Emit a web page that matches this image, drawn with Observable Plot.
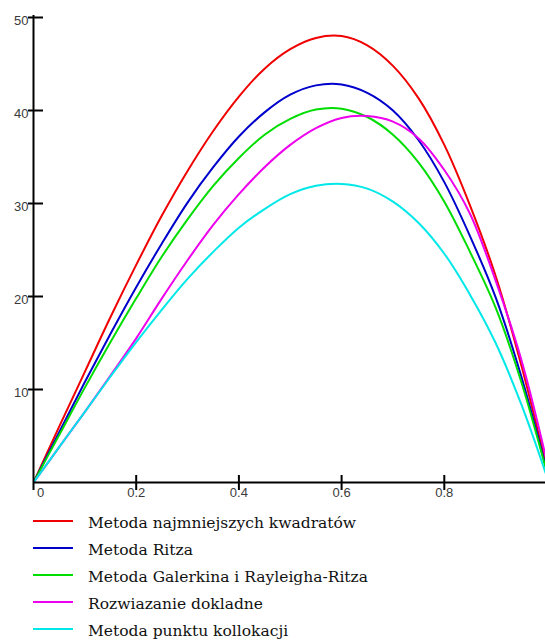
<!DOCTYPE html>
<html>
<head>
<meta charset="utf-8">
<script src="https://cdn.jsdelivr.net/npm/d3@7"></script>
<script src="https://cdn.jsdelivr.net/npm/@observablehq/plot@0.6"></script>
<style>
  html, body { margin: 0; padding: 0; background: #fff; }
  #wrap { position: relative; width: 545px; height: 642px; overflow: hidden; }
  #legend { position: absolute; left: 0; top: 0; width: 545px; height: 642px; }
</style>
</head>
<body>
<div id="wrap"><div id="chart"></div><svg id="legend" width="545" height="642"></svg></div>
<script>
const xs = [0, 0.05, 0.1, 0.15, 0.2, 0.25, 0.3, 0.35, 0.4, 0.45, 0.5, 0.55, 0.6, 0.65, 0.7, 0.75, 0.8, 0.85, 0.9, 0.95, 1.0];

const seriesNames = [
  "Metoda najmniejszych kwadratów",
  "Metoda Ritza",
  "Metoda Galerkina i Rayleigha-Ritza",
  "Rozwiazanie dokladne",
  "Metoda punktu kollokacji"
];
const seriesColors = ["#f00000", "#0000cc", "#00dd00", "#ee00ee", "#00e8e8"];

const leastSquares = [0, 6.0, 11.9, 17.8, 23.4, 28.7, 33.5, 37.8, 41.5, 44.5, 46.6, 47.8, 48.0, 47.0, 44.8, 41.3, 36.3, 29.8, 22.2, 12.6, 1.5];
const ritz         = [0, 5.4, 10.8, 16.0, 21.0, 25.7, 30.1, 33.9, 37.2, 39.8, 41.7, 42.7, 42.8, 41.9, 40.0, 36.8, 32.3, 26.5, 19.9, 11.4, 1.2];
const galerkin     = [0, 5.1, 10.2, 15.1, 19.8, 24.3, 28.3, 31.9, 34.9, 37.4, 39.1, 40.1, 40.2, 39.3, 37.4, 34.4, 30.2, 24.8, 18.8, 10.8, 1.0];
const exact        = [0, 3.8, 7.6, 11.5, 15.5, 19.8, 23.9, 27.7, 31.0, 33.9, 36.3, 38.1, 39.2, 39.4, 38.8, 37.0, 33.6, 28.9, 21.7, 13.2, 2.2];
const collocation  = [0, 3.8, 7.6, 11.4, 15.1, 18.6, 21.9, 24.8, 27.4, 29.4, 31.0, 31.9, 32.1, 31.6, 30.2, 27.9, 24.6, 20.2, 15.0, 8.4, 0.6];

const yTicks = [10, 20, 30, 40, 50];
const xTicks = [0.2, 0.4, 0.6, 0.8];
const xZeroTick = [0];

const allSeries = [leastSquares, ritz, galerkin, exact, collocation];
const data = [];
allSeries.forEach((vals, i) => {
  xs.forEach((x, j) => data.push({series: seriesNames[i], x, y: vals[j]}));
});

const W = 545, H = 505, mL = 33, mT = 17, mB = 23;
const frameW = W - mL, frameH = H - mT - mB;

const chart = Plot.plot({
  width: W,
  height: H,
  marginLeft: mL,
  marginRight: 0,
  marginTop: mT,
  marginBottom: mB,
  style: {background: "#fff", fontFamily: "'Liberation Sans', Arial, sans-serif", fontSize: "13px"},
  x: {domain: [0, (W - mL) / 513.5], axis: null},
  y: {domain: [0, 50], axis: null},
  color: {domain: seriesNames, range: seriesColors},
  marks: [
    Plot.line(data, {x: "x", y: "y", z: "series", stroke: "series", strokeWidth: 2, curve: "catmull-rom", clip: true}),
    Plot.ruleX([0], {stroke: "#000", strokeWidth: 2, insetTop: -2, insetBottom: -8}),
    Plot.ruleY([0], {stroke: "#000", strokeWidth: 2}),
    Plot.tickY(yTicks, {y: d => d, stroke: "#000", strokeWidth: 2, insetLeft: -5, insetRight: frameW - 10}),
    Plot.tickX(xTicks, {x: d => d, stroke: "#000", strokeWidth: 2, insetTop: frameH - 7, insetBottom: -8}),
    Plot.text(yTicks, {y: d => d, frameAnchor: "left", dx: -5, dy: 3, textAnchor: "end", text: d => String(d), fill: "#3a3a3a"}),
    Plot.text(xTicks, {x: d => d, frameAnchor: "bottom", dy: 14, text: d => String(d), fill: "#3a3a3a"}),
    Plot.text(xZeroTick, {x: d => d, frameAnchor: "bottom", dy: 14, dx: 7, text: d => String(d), fill: "#3a3a3a"})
  ]
});
document.getElementById("chart").appendChild(chart);

const legend = d3.select("#legend");
seriesNames.forEach((name, i) => {
  const cy = 521 + 27 * i;
  legend.append("line")
    .attr("x1", 33).attr("x2", 73).attr("y1", cy).attr("y2", cy)
    .attr("stroke", seriesColors[i]).attr("stroke-width", 2);
  legend.append("text")
    .attr("x", 88).attr("y", cy + 7)
    .style("font-family", "'DejaVu Serif'")
    .attr("font-size", 15.5)
    .attr("fill", "#111")
    .text(name);
});
</script>
</body>
</html>
